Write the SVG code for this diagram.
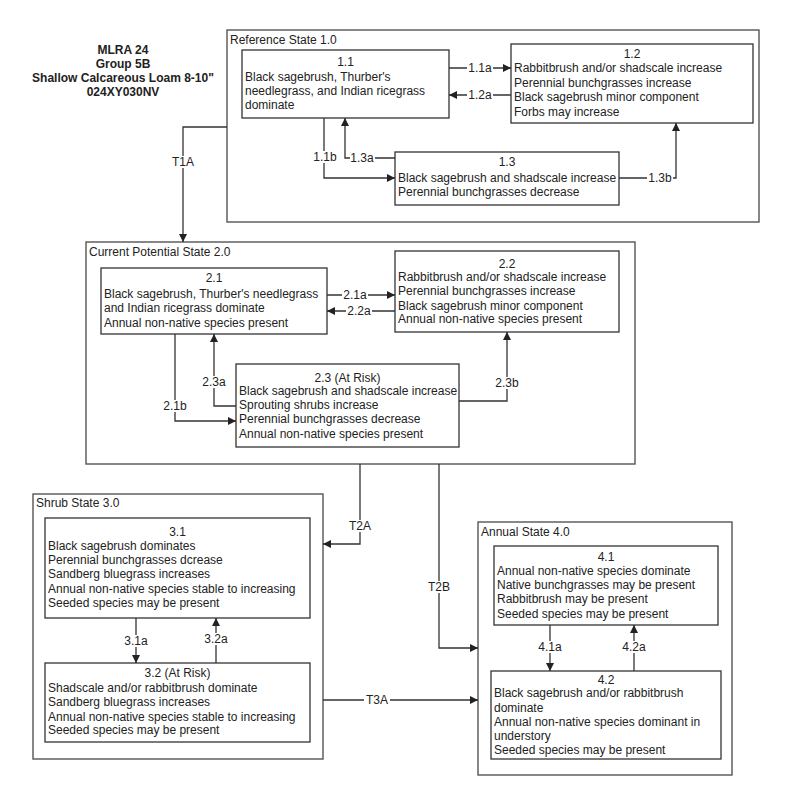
<svg xmlns="http://www.w3.org/2000/svg" width="800" height="803" viewBox="0 0 800 803">
<style>
text{font-family:"Liberation Sans",Arial,sans-serif;font-size:12px;fill:#222}
.title{font-weight:bold;text-anchor:middle}
.c{text-anchor:middle}
.state{fill:#fff;stroke:#555;stroke-width:1.4}
.box{fill:#fff;stroke:#333;stroke-width:1.3}
.ln{fill:none;stroke:#333;stroke-width:1.3}
.lbl{text-anchor:middle}
.bg{fill:#fff}
</style>
<defs>
<marker id="ah" viewBox="0 0 10 10" refX="10" refY="5" markerWidth="8" markerHeight="8" markerUnits="userSpaceOnUse" orient="auto">
<path d="M0,0 L10,5 L0,10 z" fill="#222"/>
</marker>
</defs>
<rect width="800" height="803" fill="#fff"/>

<g id="title">
<text class="title" x="123" y="54">MLRA 24</text>
<text class="title" x="123" y="68">Group 5B</text>
<text class="title" x="123" y="82">Shallow Calcareous Loam 8-10"</text>
<text class="title" x="123" y="96">024XY030NV</text>
</g>

<g id="state1">
<rect class="state" x="227" y="30" width="532" height="192"/>
<text x="230" y="44">Reference State 1.0</text>
</g>
<g id="state2">
<rect class="state" x="86" y="242" width="549" height="222"/>
<text x="89" y="256">Current Potential State 2.0</text>
</g>
<g id="state3">
<rect class="state" x="33" y="494" width="290" height="265"/>
<text x="36" y="507">Shrub State 3.0</text>
</g>
<g id="state4">
<rect class="state" x="478" y="522" width="254" height="253"/>
<text x="481" y="536">Annual State 4.0</text>
</g>

<g id="n11">
<rect class="box" x="242" y="50" width="207" height="68"/>
<text class="c" x="345.5" y="66">1.1</text>
<text x="245" y="81">Black sagebrush, Thurber's</text>
<text x="245" y="95">needlegrass, and Indian ricegrass</text>
<text x="245" y="109">dominate</text>
</g>
<g id="n12">
<rect class="box" x="511" y="44" width="242" height="79"/>
<text class="c" x="632" y="58">1.2</text>
<text x="514" y="72">Rabbitbrush and/or shadscale increase</text>
<text x="514" y="87">Perennial bunchgrasses increase</text>
<text x="514" y="101">Black sagebrush minor component</text>
<text x="514" y="116">Forbs may increase</text>
</g>
<g id="n13">
<rect class="box" x="395" y="152" width="224" height="53"/>
<text class="c" x="507" y="166">1.3</text>
<text x="398" y="182">Black sagebrush and shadscale increase</text>
<text x="398" y="196">Perennial bunchgrasses decrease</text>
</g>

<g id="n21">
<rect class="box" x="101" y="268" width="226" height="66"/>
<text class="c" x="214" y="282">2.1</text>
<text x="104" y="298">Black sagebrush, Thurber's needlegrass</text>
<text x="104" y="312">and Indian ricegrass dominate</text>
<text x="104" y="327">Annual non-native species present</text>
</g>
<g id="n22">
<rect class="box" x="395" y="251" width="224" height="81"/>
<text class="c" x="507" y="268">2.2</text>
<text x="398" y="281">Rabbitbrush and/or shadscale increase</text>
<text x="398" y="295">Perennial bunchgrasses increase</text>
<text x="398" y="310">Black sagebrush minor component</text>
<text x="398" y="323">Annual non-native species present</text>
</g>
<g id="n23">
<rect class="box" x="236" y="364" width="223" height="83"/>
<text class="c" x="347.5" y="382">2.3 (At Risk)</text>
<text x="239" y="395">Black sagebrush and shadscale increase</text>
<text x="239" y="409">Sprouting shrubs increase</text>
<text x="239" y="423">Perennial bunchgrasses decrease</text>
<text x="239" y="438">Annual non-native species present</text>
</g>

<g id="n31">
<rect class="box" x="45" y="518" width="265" height="100"/>
<text class="c" x="177.5" y="536">3.1</text>
<text x="48" y="550">Black sagebrush dominates</text>
<text x="48" y="564">Perennial bunchgrasses dcrease</text>
<text x="48" y="578">Sandberg bluegrass increases</text>
<text x="48" y="593">Annual non-native species stable to increasing</text>
<text x="48" y="607">Seeded species may be present</text>
</g>
<g id="n32">
<rect class="box" x="45" y="663" width="265" height="79"/>
<text class="c" x="177.5" y="677">3.2 (At Risk)</text>
<text x="48" y="692">Shadscale and/or rabbitbrush dominate</text>
<text x="48" y="706">Sandberg bluegrass increases</text>
<text x="48" y="721">Annual non-native species stable to increasing</text>
<text x="48" y="734">Seeded species may be present</text>
</g>

<g id="n41">
<rect class="box" x="494" y="546" width="224" height="79"/>
<text class="c" x="606" y="561">4.1</text>
<text x="497" y="575">Annual non-native species dominate</text>
<text x="497" y="589">Native bunchgrasses may be present</text>
<text x="497" y="603">Rabbitbrush may be present</text>
<text x="497" y="618">Seeded species may be present</text>
</g>
<g id="n42">
<rect class="box" x="491" y="671" width="230" height="88"/>
<text class="c" x="606" y="684">4.2</text>
<text x="494" y="697">Black sagebrush and/or rabbitbrush</text>
<text x="494" y="712">dominate</text>
<text x="494" y="726">Annual non-native species dominant in</text>
<text x="494" y="740">understory</text>
<text x="494" y="754">Seeded species may be present</text>
</g>

<g id="connectors">
<path class="ln" d="M449,68 H511" marker-end="url(#ah)"/>
<path class="ln" d="M511,95 H449" marker-end="url(#ah)"/>
<path class="ln" d="M324,118 V178 H395" marker-end="url(#ah)"/>
<path class="ln" d="M395,158 H345 V118" marker-end="url(#ah)"/>
<path class="ln" d="M619,178 H676 V123" marker-end="url(#ah)"/>
<path class="ln" d="M227,127 H183 V242" marker-end="url(#ah)"/>

<path class="ln" d="M327,295 H395" marker-end="url(#ah)"/>
<path class="ln" d="M395,311 H327" marker-end="url(#ah)"/>
<path class="ln" d="M175,334 V421 H236" marker-end="url(#ah)"/>
<path class="ln" d="M236,406 H214 V334" marker-end="url(#ah)"/>
<path class="ln" d="M459,401 H507 V332" marker-end="url(#ah)"/>

<path class="ln" d="M360,464 V544 H323" marker-end="url(#ah)"/>
<path class="ln" d="M439,464 V648 H478" marker-end="url(#ah)"/>
<path class="ln" d="M323,700 H478" marker-end="url(#ah)"/>

<path class="ln" d="M136,618 V663" marker-end="url(#ah)"/>
<path class="ln" d="M216,663 V618" marker-end="url(#ah)"/>
<path class="ln" d="M550,625 V671" marker-end="url(#ah)"/>
<path class="ln" d="M634,671 V625" marker-end="url(#ah)"/>

<rect class="bg" x="467" y="62" width="26" height="12"/>
<rect class="bg" x="467" y="89" width="26" height="12"/>
<rect class="bg" x="313" y="151" width="24" height="12"/>
<rect class="bg" x="350" y="152" width="25" height="12"/>
<rect class="bg" x="647" y="172" width="26" height="12"/>
<rect class="bg" x="171" y="156" width="24" height="12"/>
<rect class="bg" x="342" y="289" width="26" height="12"/>
<rect class="bg" x="346" y="305" width="26" height="12"/>
<rect class="bg" x="163" y="400" width="24" height="12"/>
<rect class="bg" x="202" y="376" width="24" height="12"/>
<rect class="bg" x="495" y="377" width="24" height="12"/>
<rect class="bg" x="348" y="520" width="24" height="12"/>
<rect class="bg" x="427" y="581" width="24" height="12"/>
<rect class="bg" x="364" y="694" width="26" height="12"/>
<rect class="bg" x="124" y="635" width="24" height="12"/>
<rect class="bg" x="204" y="633" width="24" height="12"/>
<rect class="bg" x="538" y="641" width="24" height="12"/>
<rect class="bg" x="622" y="641" width="24" height="12"/>

<text class="lbl" x="480" y="72">1.1a</text>
<text class="lbl" x="480" y="99">1.2a</text>
<text class="lbl" x="325" y="161">1.1b</text>
<text class="lbl" x="362" y="162">1.3a</text>
<text class="lbl" x="660" y="182">1.3b</text>
<text class="lbl" x="183" y="166">T1A</text>
<text class="lbl" x="355" y="299">2.1a</text>
<text class="lbl" x="359" y="315">2.2a</text>
<text class="lbl" x="175" y="410">2.1b</text>
<text class="lbl" x="214" y="386">2.3a</text>
<text class="lbl" x="507" y="387">2.3b</text>
<text class="lbl" x="360" y="530">T2A</text>
<text class="lbl" x="439" y="591">T2B</text>
<text class="lbl" x="377" y="704">T3A</text>
<text class="lbl" x="136" y="645">3.1a</text>
<text class="lbl" x="216" y="643">3.2a</text>
<text class="lbl" x="550" y="651">4.1a</text>
<text class="lbl" x="634" y="651">4.2a</text>
</g>
</svg>
